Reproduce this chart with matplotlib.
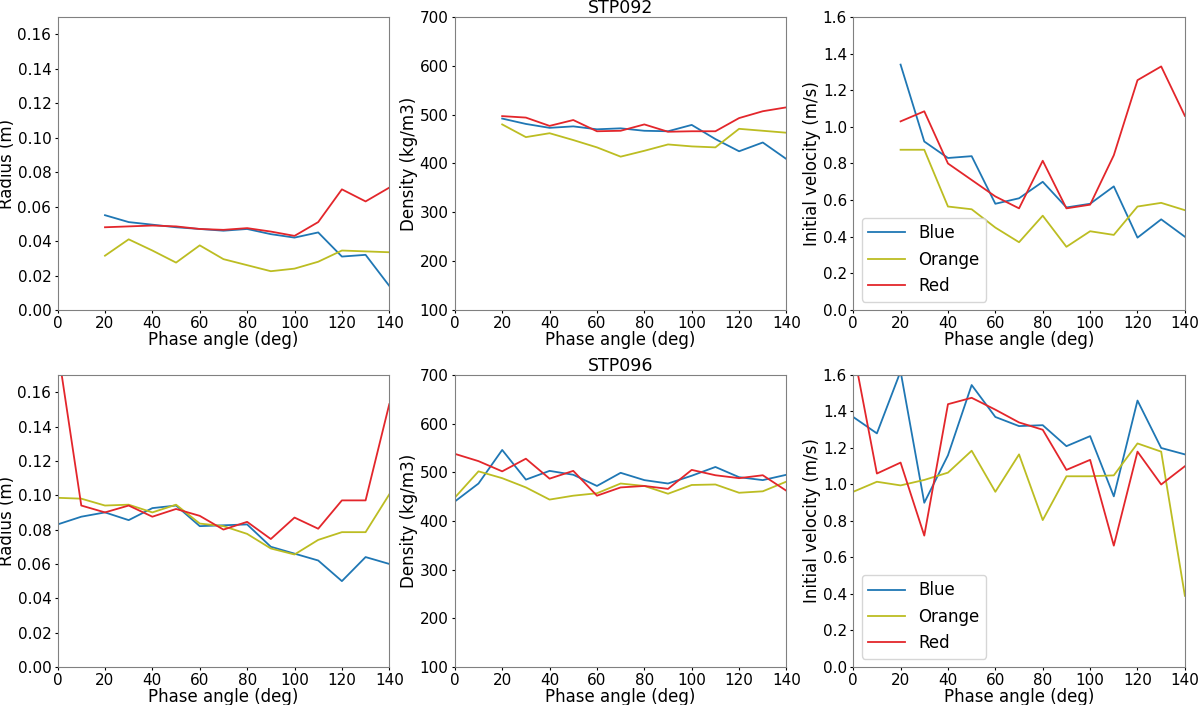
import numpy as np
import matplotlib
matplotlib.use('Agg')
import matplotlib.pyplot as plt

# phase angles
x_top = [20, 30, 40, 50, 60, 70, 80, 90, 100, 110, 120, 130, 140]
x_bot = [0, 10, 20, 30, 40, 50, 60, 70, 80, 90, 100, 110, 120, 130, 140]

# STP092
rad_092_blue = [0.055, 0.051, 0.0495, 0.048, 0.047, 0.046, 0.047, 0.044, 0.042, 0.045, 0.031, 0.032, 0.014]
rad_092_orange = [0.0315, 0.041, 0.0345, 0.0275, 0.0375, 0.0295, 0.026, 0.0225, 0.024, 0.028, 0.0345, 0.034, 0.0335]
rad_092_red = [0.048, 0.0485, 0.049, 0.0485, 0.047, 0.0465, 0.0475, 0.0455, 0.043, 0.051, 0.070, 0.063, 0.071]

den_092_blue = [492, 481, 473, 476, 470, 472, 467, 466, 479, 450, 425, 443, 409]
den_092_orange = [480, 454, 462, 448, 433, 414, 426, 439, 435, 433, 471, 467, 463]
den_092_red = [497, 494, 477, 489, 466, 467, 480, 465, 466, 466, 493, 507, 515]

vel_092_blue = [1.34, 0.92, 0.83, 0.84, 0.58, 0.61, 0.70, 0.56, 0.58, 0.675, 0.395, 0.495, 0.40]
vel_092_orange = [0.875, 0.875, 0.565, 0.55, 0.45, 0.37, 0.515, 0.345, 0.43, 0.41, 0.565, 0.585, 0.545]
vel_092_red = [1.03, 1.085, 0.80, 0.71, 0.62, 0.555, 0.815, 0.555, 0.575, 0.845, 1.255, 1.33, 1.06]

# STP096
rad_096_blue = [0.083, 0.0875, 0.090, 0.0855, 0.0925, 0.094, 0.082, 0.0825, 0.083, 0.070, 0.066, 0.062, 0.050, 0.064, 0.060]
rad_096_orange = [0.0985, 0.098, 0.094, 0.0945, 0.090, 0.0945, 0.0835, 0.082, 0.0775, 0.069, 0.0655, 0.074, 0.0785, 0.0785, 0.1005]
rad_096_red = [0.186, 0.094, 0.090, 0.094, 0.0875, 0.092, 0.088, 0.080, 0.0845, 0.0745, 0.087, 0.0805, 0.097, 0.097, 0.153]

den_096_blue = [440, 477, 546, 485, 503, 495, 472, 499, 484, 477, 493, 511, 490, 484, 495]
den_096_orange = [448, 502, 488, 469, 444, 452, 457, 477, 472, 456, 474, 475, 458, 461, 481]
den_096_red = [538, 523, 502, 528, 487, 503, 452, 469, 472, 466, 505, 494, 488, 494, 462]

vel_096_blue = [1.37, 1.28, 1.62, 0.90, 1.16, 1.545, 1.37, 1.32, 1.325, 1.21, 1.265, 0.935, 1.46, 1.20, 1.165]
vel_096_orange = [0.96, 1.015, 0.995, 1.025, 1.065, 1.185, 0.96, 1.165, 0.805, 1.045, 1.045, 1.05, 1.225, 1.18, 0.39]
vel_096_red = [1.74, 1.06, 1.12, 0.72, 1.44, 1.475, 1.41, 1.34, 1.30, 1.08, 1.135, 0.665, 1.18, 1.00, 1.10]

C_BLUE = '#1f77b4'
C_ORANGE = '#bcbd22'
C_RED = '#e3262b'

plt.rcParams['font.size'] = 11
plt.rcParams['axes.labelsize'] = 12
plt.rcParams['axes.titlesize'] = 12.5
plt.rcParams['axes.edgecolor'] = '#808080'
plt.rcParams['xtick.major.size'] = 2
plt.rcParams['ytick.major.size'] = 2
plt.rcParams['xtick.major.pad'] = 2.5
plt.rcParams['ytick.major.pad'] = 2.5

fig = plt.figure(figsize=(12, 7.05), dpi=100)

lefts = [0.048, 0.379, 0.711]
w = 0.2764
rows = [(0.5603, 0.4156), (0.0539, 0.4142)]

panels = [
    (x_top, rad_092_blue, rad_092_orange, rad_092_red, 'Radius (m)', (0, 0.17), np.arange(0, 0.161, 0.02), None),
    (x_top, den_092_blue, den_092_orange, den_092_red, 'Density (kg/m3)', (100, 700), np.arange(100, 701, 100), 'STP092'),
    (x_top, vel_092_blue, vel_092_orange, vel_092_red, 'Initial velocity (m/s)', (0, 1.6), np.arange(0, 1.61, 0.2), None),
    (x_bot, rad_096_blue, rad_096_orange, rad_096_red, 'Radius (m)', (0, 0.17), np.arange(0, 0.161, 0.02), None),
    (x_bot, den_096_blue, den_096_orange, den_096_red, 'Density (kg/m3)', (100, 700), np.arange(100, 701, 100), 'STP096'),
    (x_bot, vel_096_blue, vel_096_orange, vel_096_red, 'Initial velocity (m/s)', (0, 1.6), np.arange(0, 1.61, 0.2), None),
]

for i, (xs, b, o, r, ylabel, ylim, yticks, title) in enumerate(panels):
    bottom, h = rows[i // 3]
    ax = fig.add_axes([lefts[i % 3], bottom, w, h])
    ax.plot(xs, b, color=C_BLUE, lw=1.3, label='Blue')
    ax.plot(xs, o, color=C_ORANGE, lw=1.3, label='Orange')
    ax.plot(xs, r, color=C_RED, lw=1.3, label='Red')
    ax.set_xlim(0, 140)
    ax.set_ylim(*ylim)
    ax.set_yticks(yticks)
    if ylim[1] < 1:
        ax.set_yticklabels(['%.2f' % v for v in yticks])
    elif ylim[1] < 10:
        ax.set_yticklabels(['%.1f' % v for v in yticks])
    ax.set_xticks(range(0, 141, 20))
    ax.set_xlabel('Phase angle (deg)', labelpad=0)
    ax.set_ylabel(ylabel, labelpad=1)
    if title:
        ax.set_title(title, pad=3)
    if i % 3 == 2:
        ax.legend(loc='lower left', fontsize=12, handlelength=2.2)

fig.savefig('out.png', dpi=100)
